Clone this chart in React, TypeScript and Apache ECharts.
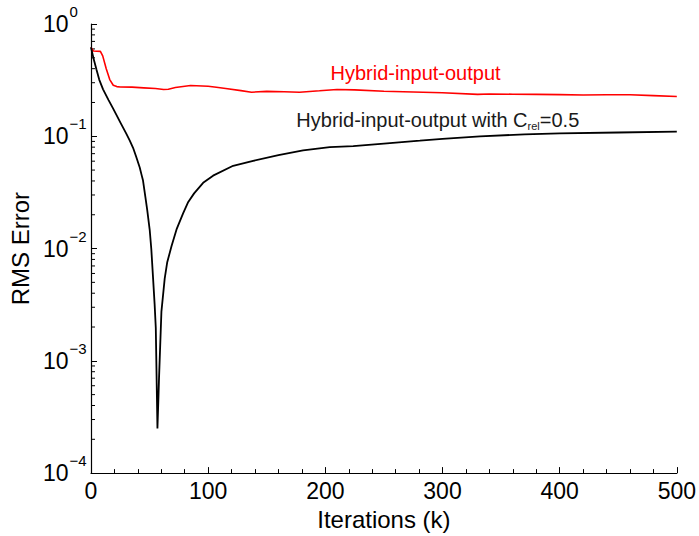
import React, { useEffect, useRef } from "react";
import * as echarts from "echarts";

const FONT = "'Liberation Sans', Arial, Helvetica, sans-serif";

// Hybrid-input-output (red)
const hioX = [0, 2, 5, 8, 10, 13, 16, 19, 22, 25, 35, 45, 55, 62, 66, 72, 85, 100, 107, 115, 128, 137, 150, 165, 178, 195, 210, 225, 250, 275, 300, 330, 340, 360, 380, 400, 420, 440, 460, 480, 500];
const hioY = [0.62, 0.575, 0.572, 0.57, 0.52, 0.4, 0.32, 0.285, 0.277, 0.275, 0.274, 0.27, 0.266, 0.261, 0.262, 0.272, 0.283, 0.279, 0.273, 0.266, 0.255, 0.247, 0.251, 0.249, 0.247, 0.254, 0.261, 0.259, 0.252, 0.248, 0.244, 0.236, 0.238, 0.237, 0.236, 0.235, 0.233, 0.234, 0.234, 0.23, 0.226];

// Hybrid-input-output with C_rel = 0.5 (black)
const relX = [0, 2, 4.6, 7, 10.3, 15, 18.8, 21.7, 25, 30, 33, 35.9, 38.5, 41.6, 43, 44.4, 46.4, 48, 50.1, 51.5, 53, 54.3, 55.3, 56.7, 57.5, 58.1, 60.1, 62.9, 65, 68.7, 73, 78.6, 83, 88, 95.7, 104.2, 121.3, 138.4, 160, 181, 203.8, 223.8, 250, 280.7, 300, 332, 370, 400, 450, 500];
const relY = [0.62, 0.5, 0.395, 0.32, 0.262, 0.21, 0.177, 0.155, 0.133, 0.106, 0.092, 0.079, 0.066, 0.0527, 0.046, 0.0403, 0.0288, 0.022, 0.0147, 0.0098, 0.0054, 0.0032, 0.00196, 0.00025, 0.00045, 0.00072, 0.00274, 0.0054, 0.0075, 0.0105, 0.0148, 0.0206, 0.026, 0.031, 0.0385, 0.0446, 0.0546, 0.0604, 0.068, 0.0748, 0.08, 0.0817, 0.086, 0.0914, 0.095, 0.1, 0.104, 0.106, 0.108, 0.11];

// Axis ticks
const yTickValues = [1e-4, 1e-3, 1e-2, 1e-1, 1];
const yTickExponents = ["\u22124", "\u22123", "\u22122", "\u22121", "0"];
const yMinorTicks = [
  2e-4, 3e-4, 4e-4, 5e-4, 6e-4, 7e-4, 8e-4, 9e-4,
  2e-3, 3e-3, 4e-3, 5e-3, 6e-3, 7e-3, 8e-3, 9e-3,
  2e-2, 3e-2, 4e-2, 5e-2, 6e-2, 7e-2, 8e-2, 9e-2,
  2e-1, 3e-1, 4e-1, 5e-1, 6e-1, 7e-1, 8e-1, 9e-1,
];

// Annotations (data coordinates)
const hioLabel = { x: 277, y: 0.365, text: "Hybrid-input-output" };
const relLabel = { x: 296, y: 0.14 };

export default function App() {
  const ref = useRef<HTMLDivElement>(null);

  useEffect(() => {
    if (!ref.current) return;
    document.body.style.margin = "0";
    const chart = echarts.init(ref.current, null, { renderer: "svg" });

    const option: any = {
      animation: false,
      backgroundColor: "#ffffff",
      textStyle: { fontFamily: FONT },
      grid: { left: 91, right: 22, top: 24, bottom: 55, containLabel: false },
      xAxis: {
        type: "value",
        min: 0,
        max: 500,
        interval: 100,
        name: "Iterations (k)",
        nameLocation: "middle",
        nameGap: 25,
        nameTextStyle: { fontSize: 24, color: "#000", fontFamily: FONT },
        axisLine: { show: true, lineStyle: { color: "#000", width: 1.2 } },
        axisTick: { show: true, inside: true, length: 6, lineStyle: { color: "#000", width: 1 } },
        minorTick: { show: true, splitNumber: 5, length: 4, lineStyle: { color: "#000", width: 1 } },
        splitLine: { show: false },
        minorSplitLine: { show: false },
        axisLabel: { fontSize: 23, color: "#000", margin: 6, fontFamily: FONT },
      },
      yAxis: {
        type: "log",
        logBase: 10,
        min: 1e-4,
        max: 1,
        name: "RMS Error",
        nameLocation: "middle",
        nameGap: 55,
        nameTextStyle: { fontSize: 24, color: "#000", fontFamily: FONT },
        axisLine: { show: true, lineStyle: { color: "#000", width: 1.2 } },
        axisTick: { show: true, inside: true, length: 6, lineStyle: { color: "#000", width: 1 } },
        splitLine: { show: false },
        axisLabel: {
          align: "left",
          margin: 48,
          color: "#000",
          formatter: (v: number) => {
            let idx = -1;
            yTickValues.forEach((t, i) => {
              if (Math.abs(Math.log10(t) - Math.log10(v)) < 1e-6) idx = i;
            });
            if (idx < 0) return "";
            return `{b|10}{s|${yTickExponents[idx]}}`;
          },
          rich: {
            b: { fontSize: 23, lineHeight: 23, color: "#000", fontFamily: FONT, verticalAlign: "middle" },
            s: { fontSize: 15, lineHeight: 15, color: "#000", fontFamily: FONT, verticalAlign: "middle", padding: [0, 0, 25, 1] },
          },
        },
      },
      series: [
        {
          type: "line",
          name: "HIO",
          data: hioX.map((x, i) => [x, hioY[i]]),
          showSymbol: false,
          symbol: "none",
          lineStyle: { color: "#ff0000", width: 1.6 },
          markPoint: {
            symbol: "circle",
            symbolSize: 0,
            silent: true,
            label: {
              show: true,
              position: "inside",
              color: "#ff0000",
              fontSize: 20,
              fontFamily: FONT,
              formatter: () => hioLabel.text,
            },
            data: [{ coord: [hioLabel.x, hioLabel.y] }],
          },
        },
        {
          type: "line",
          name: "HIO Crel",
          data: relX.map((x, i) => [x, relY[i]]),
          showSymbol: false,
          symbol: "none",
          lineStyle: { color: "#000000", width: 1.8 },
          markPoint: {
            symbol: "circle",
            symbolSize: 0,
            silent: true,
            label: {
              show: true,
              position: "inside",
              formatter: () => "{m|Hybrid-input-output with C}{u|rel}{m|=0.5}",
              rich: {
                m: { fontSize: 20, lineHeight: 20, color: "#1a1a1a", fontFamily: FONT, verticalAlign: "middle" },
                u: { fontSize: 11, lineHeight: 11, color: "#1a1a1a", fontFamily: FONT, verticalAlign: "middle", padding: [12, 0, 0, 0] },
              },
            },
            data: [{ coord: [relLabel.x, relLabel.y] }],
          },
        },
        {
          type: "custom",
          name: "yMinorTicks",
          silent: true,
          clip: false,
          data: yMinorTicks.map((v) => [0, v]),
          renderItem: (params: any, api: any) => {
            const p = api.coord([api.value(0), api.value(1)]);
            return {
              type: "line",
              shape: { x1: p[0], y1: p[1], x2: p[0] + 4, y2: p[1] },
              style: { stroke: "#000", lineWidth: 1 },
            };
          },
        },
      ],
    };

    chart.setOption(option);
    return () => chart.dispose();
  }, []);

  return <div ref={ref} style={{ width: 699, height: 536 }} />;
}
